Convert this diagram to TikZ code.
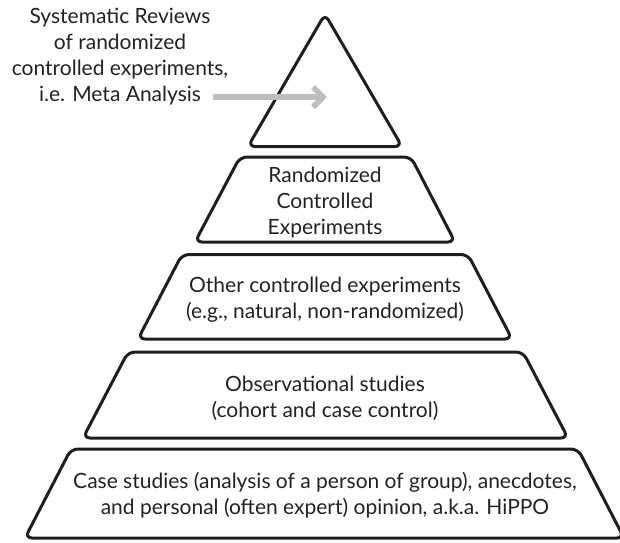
\documentclass[tikz,border=0pt]{standalone}
\usepackage{fontspec}
\setmainfont{Lato}
\usetikzlibrary{arrows.meta}
\definecolor{ink}{HTML}{1E1E1E}
\definecolor{txt}{HTML}{222222}
\definecolor{pointer}{HTML}{BEBEBE}
\begin{document}
\begin{tikzpicture}[x=1pt,y=-1pt,
  level/.style={draw=ink, line width=3pt, rounded corners=7pt, line join=round},
  label/.style={text=txt, align=center, font=\fontsize{21}{26}\selectfont, inner sep=0pt},
  pointerarrow/.style={draw=pointer, line width=5.5pt, -{Straight Barb[length=10pt,width=20pt,line width=5.5pt]}}]
  \useasboundingbox (0,0) rectangle (620,542);
  \begin{scope}
    \clip (0,0) rectangle (620,542);
    % pyramid levels, top to bottom
    \draw[level] (325,14) -- (402,146.5) -- (248,146.5) -- cycle;
    \draw[level] (240,157) -- (411,157) -- (455,242) -- (195,242) -- cycle;
    \draw[level] (182,254.5) -- (468,254.5) -- (512,339) -- (138,339) -- cycle;
    \draw[level] (128,352) -- (523,352) -- (568,438) -- (83,438) -- cycle;
    \draw[level] (71,449) -- (578,449) -- (624,538) -- (25,538) -- cycle;
  \end{scope}
  % level captions
  \node[label] (meta) at (120,57) {Systematic Reviews\\of randomized\\controlled experiments,\\i.e. Meta Analysis};
  \node[label] (rce) at (325,203) {Randomized\\Controlled\\Experiments};
  \node[label] (oce) at (325,300) {Other controlled experiments\\(e.g., natural, non-randomized)};
  \node[label] (obs) at (325,398) {Observational studies\\(cohort and case control)};
  \node[label] (case) at (325,495) {Case studies (analysis of a person of group), anecdotes,\\and personal (often expert) opinion, a.k.a. HiPPO};
  % pointer into the apex
  \coordinate (pstart) at (213,97);
  \coordinate (ptip) at (327,97);
  \draw[pointerarrow] (pstart) -- (ptip);
\end{tikzpicture}
\end{document}
